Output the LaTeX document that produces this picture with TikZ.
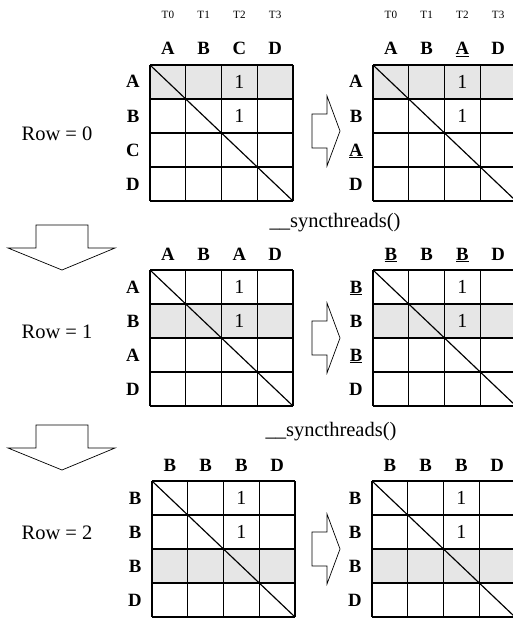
\documentclass[tikz,border=0pt]{standalone}
\usepackage{fontspec}
\setmainfont{Liberation Serif}
\usepackage{tikz}
\usetikzlibrary{positioning,calc}
\definecolor{cellshade}{RGB}{230,230,230}

\begin{document}
\begin{tikzpicture}[x=0.03cm, y=-0.03cm,
    cellline/.style={line width=1pt},
    hdr/.style={font=\fontsize{16}{18}\selectfont\bfseries, inner sep=0pt, anchor=base},
    thr/.style={font=\fontsize{9.5}{11}\selectfont, inner sep=0pt},
    txt/.style={font=\fontsize{17.5}{20}\selectfont, inner sep=0pt},
    one/.style={font=\fontsize{17}{20}\selectfont, inner sep=0pt},
    blockarrow/.style={draw, line width=0.6pt, fill=white}]
    \clip (0,0) rectangle (513,619);

    % the six matrices: name / left / top / shaded row / letters
    \foreach \p/\gx/\gy/\s/\lbl in {r0l/150/65/0/{A,B,C,D}, r0r/373/65/0/{A,B,\underline{A},D},
                                   r1l/150/270/1/{A,B,A,D}, r1r/373/270/1/{\underline{B},B,\underline{B},D},
                                   r2l/152/481/2/{B,B,B,D}, r2r/372/481/2/{B,B,B,D}} {
        \fill [cellshade] (\gx,{\gy+\s*34}) rectangle ++(143,34);
        \foreach \k in {0,...,4} {
            \draw [cellline] ({\gx+\k*35.75},\gy) -- ++(0,136);
            \draw [cellline] (\gx,{\gy+\k*34}) -- ++(143,0);
        }
        \draw [cellline] (\gx,\gy) -- ++(143,136);
        \foreach \c [count=\i from 0] in \lbl {
            \node [hdr] (\p-c\i) at ({\gx+17.9+\i*35.75},{\gy-10}) {\c};
            \node [hdr] (\p-r\i) at ({\gx-17},{\gy+23+\i*34}) {\c};
        }
        \node [one] (\p-one0) at ({\gx+89.4},{\gy+17}) {1};
        \node [one] (\p-one1) at ({\gx+89.4},{\gy+51}) {1};
    }

    % thread ids
    \foreach \p/\gx in {r0l/150, r0r/373} {
        \foreach \i in {0,...,3} {
            \node [thr] (\p-t\i) at ({\gx+17.9+\i*35.75},15) {T\i};
        }
    }

    \node [txt] (row0) at (57,134) {Row = 0};
    \node [txt] (row1) at (57,332) {Row = 1};
    \node [txt] (row2) at (57,533) {Row = 2};
    \node [txt] (sync1) at (335,223) {\_\_syncthreads()};
    \node [txt] (sync2) at (331,432) {\_\_syncthreads()};

    % down arrows between steps
    \foreach \ty in {225, 425} {
        \draw [blockarrow] (36,\ty) -- (88,\ty) -- (88,\ty+23) -- (115,\ty+23) -- (62,\ty+45)
            -- (8,\ty+23) -- (36,\ty+23) -- cycle;
    }
    % right arrows between matrices
    \foreach \cy in {131, 338, 549} {
        \draw [blockarrow] (312,\cy-17) -- (327,\cy-17) -- (327,\cy-35) -- (340,\cy)
            -- (327,\cy+35) -- (327,\cy+17) -- (312,\cy+17) -- cycle;
    }
\end{tikzpicture}
\end{document}
